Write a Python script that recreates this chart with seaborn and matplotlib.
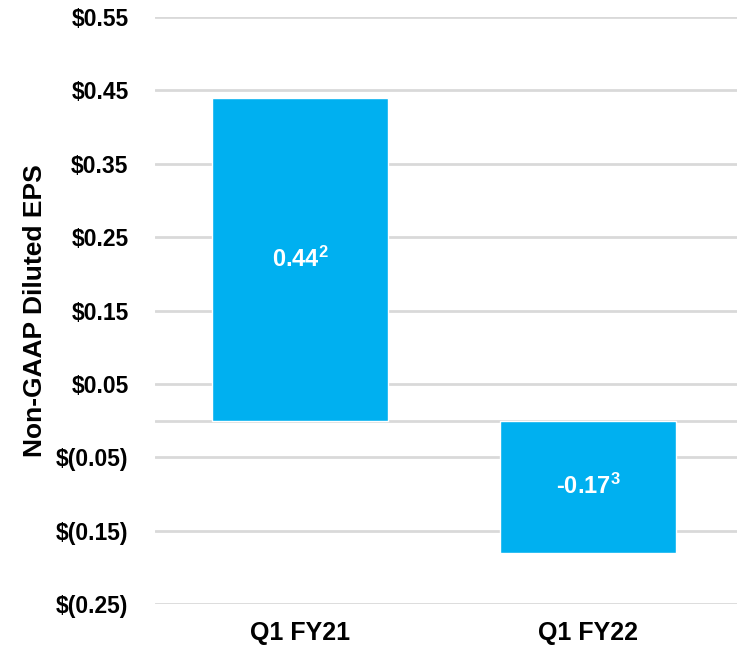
import matplotlib
matplotlib.use("Agg")
import matplotlib.pyplot as plt
import seaborn as sns
import pandas as pd

categories = ["Q1 FY21", "Q1 FY22"]
eps_values = [0.44, -0.18]
bar_labels = ["0.44$^{2}$", "-0.17$^{3}$"]
y_ticks = [0.55, 0.45, 0.35, 0.25, 0.15, 0.05, -0.05, -0.15, -0.25]
y_tick_labels = ["$0.55", "$0.45", "$0.35", "$0.25", "$0.15", "$0.05",
                 "$(0.05)", "$(0.15)", "$(0.25)"]

sns.set_theme(style="white")
plt.rcParams["font.family"] = ["Liberation Sans", "DejaVu Sans"]
plt.rcParams["mathtext.fontset"] = "custom"
plt.rcParams["mathtext.rm"] = "Liberation Sans:bold"
plt.rcParams["mathtext.it"] = "Liberation Sans:bold"
plt.rcParams["mathtext.bf"] = "Liberation Sans:bold"

df = pd.DataFrame({"period": categories, "eps": eps_values})

fig = plt.figure(figsize=(7.38, 6.47), dpi=100)
ax = fig.add_axes([155 / 738, 43 / 647, 582 / 738, 587 / 647])

grid_color = "#D9D9D9"
for t in y_ticks:
    ax.axhline(t, color=grid_color, lw=2.0, zorder=0)
ax.axhline(0, color=grid_color, lw=2.0, zorder=0)

sns.barplot(data=df, x="period", y="eps", color="#00B0F0", saturation=1,
            width=0.61, ax=ax, zorder=2)

for p, lab, v in zip(ax.patches, bar_labels, eps_values):
    cx = p.get_x() + p.get_width() / 2
    ax.text(cx, v / 2, lab, color="white", fontsize=17, fontweight="bold",
            ha="center", va="center", zorder=3)

ax.set_ylim(-0.25, 0.55)
ax.set_xlim(-0.503, 1.517)
ax.set_yticks(y_ticks)
ax.set_yticklabels(y_tick_labels)
ax.tick_params(axis="y", length=0, pad=19, labelsize=16.5)
ax.tick_params(axis="x", length=0, pad=12, labelsize=18)
for lbl in ax.get_yticklabels() + ax.get_xticklabels():
    lbl.set_fontweight("bold")
    lbl.set_color("black")
ax.set_xlabel("")
ax.set_ylabel("Non-GAAP Diluted EPS", fontsize=19, fontweight="bold",
              color="black", va="center")
ax.yaxis.set_label_coords(-0.206, 0.5)
for s in ax.spines.values():
    s.set_visible(False)
ax.grid(False)

fig.savefig("out.png", dpi=100)
